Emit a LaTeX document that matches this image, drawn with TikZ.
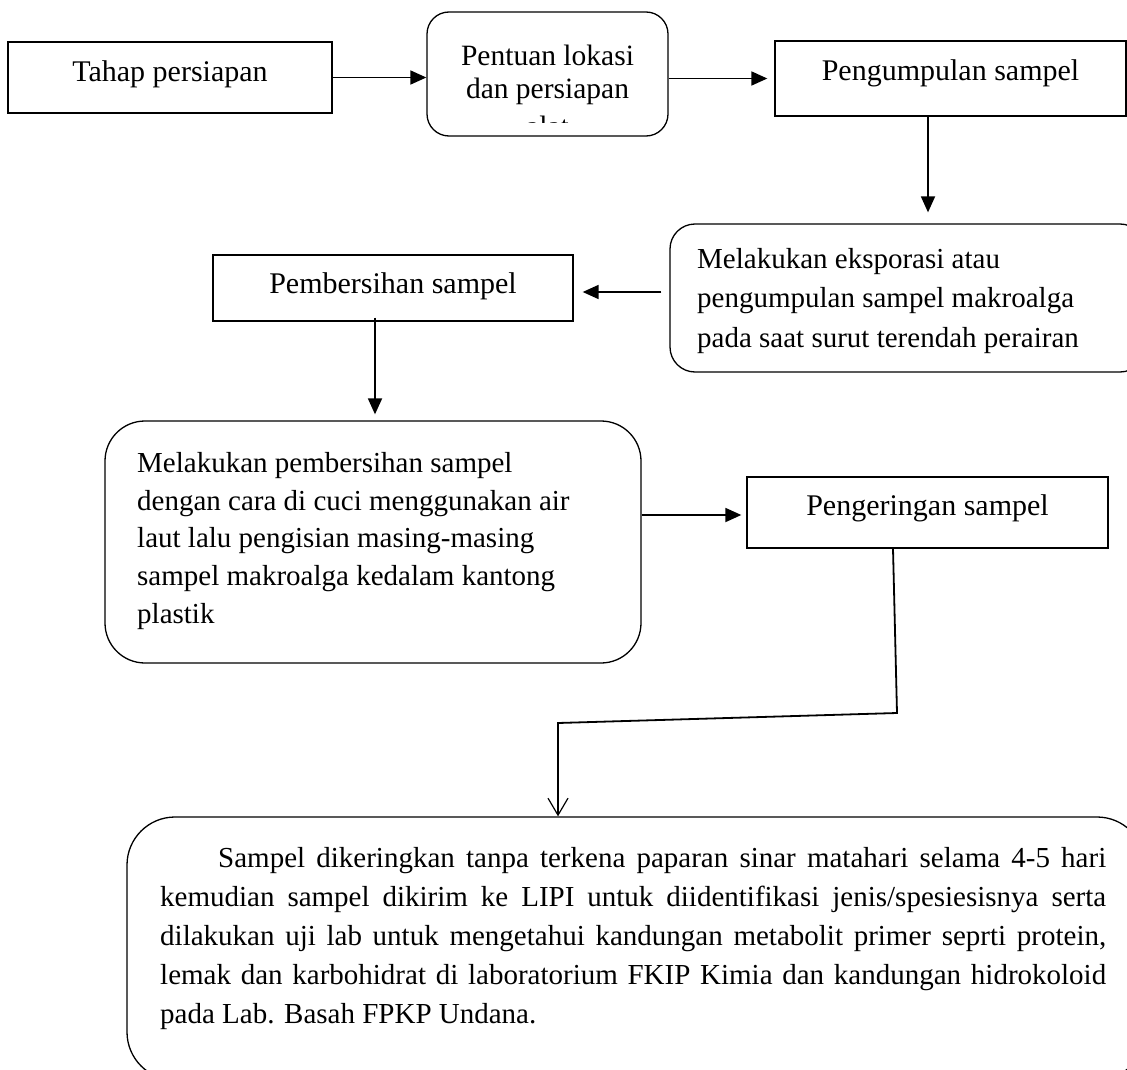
\documentclass[tikz,border=0pt]{standalone}
\usepackage{fontspec}
\setmainfont{Liberation Serif}
\usetikzlibrary{arrows.meta,calc}
\begin{document}
\begin{tikzpicture}[x=1pt,y=-1pt,
  box/.style={draw, line width=1.3pt, inner sep=0pt, font=\fontsize{30}{38}\selectfont},
  conn/.style={line width=1.8pt, -{Triangle[length=16pt,width=14pt]}},
  openconn/.style={line width=1.8pt, -{Straight Barb[length=17pt,width=20pt,line width=1.2pt]}},
  txt/.style={inner sep=0pt, anchor=north west}]
\path[use as bounding box, clip] (0,0) rectangle (1127,1070);
\fill[white] (0,0) rectangle (1127,1070);

% boxes
\node[box, minimum width=324pt, minimum height=71pt, text height=18pt, text depth=9pt] (b1) at (170,77.5) {Tahap persiapan};
\node[box, rounded corners=22pt, minimum width=241pt, minimum height=124pt] (b2) at (547.5,74) {};
\begin{scope}
  \clip (427,12) rectangle (668,123);
  \node[inner sep=0pt, anchor=north, align=center, font=\fontsize{29.5}{32.5}\selectfont] (t2) at (547.5,45) {Pentuan lokasi\\dan persiapan\\[6pt]alat};
\end{scope}
\node[box, minimum width=351pt, minimum height=75pt, text height=13pt, text depth=9pt] (b3) at (950.5,78.5) {Pengumpulan sampel};
\node[box, rounded corners=25pt, minimum width=475pt, minimum height=148pt] (b4) at (907.5,298) {};
\node[txt, align=left, font=\fontsize{29}{39.5}\selectfont] (t4) at (697,248) {Melakukan eksporasi atau\\pengumpulan sampel makroalga\\pada saat surut terendah perairan};
\node[box, minimum width=360pt, minimum height=66pt, text height=16pt, text depth=6pt] (b5) at (393,288) {Pembersihan sampel};
\node[box, rounded corners=40pt, minimum width=536pt, minimum height=242pt] (b6) at (373,542) {};
\node[txt, align=left, font=\fontsize{29}{37.75}\selectfont] (t6) at (137,452) {Melakukan pembersihan sampel\\dengan cara di cuci menggunakan air\\laut lalu pengisian masing-masing\\sampel makroalga kedalam kantong\\plastik};
\node[box, minimum width=361pt, minimum height=71pt, text height=14pt, text depth=9pt] (b7) at (927.5,512.5) {Pengeringan sampel};
\node[box, rounded corners=48pt, minimum width=1018pt, minimum height=263pt] (b8) at (636,948.5) {};
\node[txt, text width=946pt, align=justify, font=\fontsize{29}{39}\selectfont] (t8) at (160,847) {\hspace*{58pt}Sampel dikeringkan tanpa terkena paparan sinar matahari selama 4-5 hari\linebreak kemudian sampel dikirim ke LIPI untuk diidentifikasi jenis/spesiesisnya serta\linebreak dilakukan uji lab untuk mengetahui kandungan metabolit primer seprti protein,\linebreak lemak dan karbohidrat di laboratorium FKIP Kimia dan kandungan hidrokoloid\linebreak pada Lab. Basah FPKP Undana.};

% helper coordinates
\coordinate (x3) at (928,0);
\coordinate (y4) at (0,292);
\coordinate (x5) at (375,0);
\coordinate (y6) at (0,515);
\coordinate (x7) at (893,0);
\coordinate (k1) at (897,713);
\coordinate (k2) at (558,723);

% connectors
\draw[conn] (b1.east) -- (b2.west |- b1.east);
\draw[conn, shorten >=7pt] (b2.east |- b3.west) -- (b3.west);
\draw[conn, shorten >=11pt] (b3.south -| x3) -- (b4.north -| x3);
\draw[conn, shorten <=8pt, shorten >=9pt] (b4.west |- y4) -- (b5.east |- y4);
\draw[conn, shorten <=-4pt, shorten >=6pt] (b5.south -| x5) -- (b6.north -| x5);
\draw[conn, shorten >=5pt] (b6.east |- y6) -- (b7.west |- y6);
\draw[openconn, line join=miter] (b7.south -| x7) -- (k1) -- (k2) -- (b8.north -| k2);
\end{tikzpicture}
\end{document}
